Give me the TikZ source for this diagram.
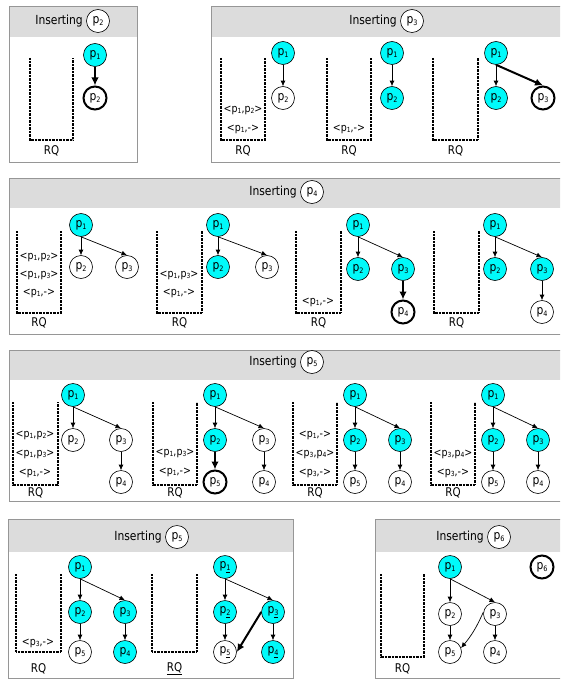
\documentclass[tikz,border=0pt]{standalone}
\usepackage{fontspec}
\setmainfont{DejaVu Sans}[FakeStretch=0.86]
\usetikzlibrary{arrows.meta}
\definecolor{vcyan}{RGB}{0,250,250}
\definecolor{hdrgray}{RGB}{220,220,220}
\definecolor{boxgray}{RGB}{150,150,150}
\newcommand\pl[1]{p\raisebox{-0.3ex}{\fontsize{7.5}{8}\selectfont #1}}
\newcommand\pu[1]{p\raisebox{-0.3ex}{\fontsize{7.5}{8}\selectfont\underline{#1}}}
\newcommand\ql[1]{p\raisebox{-0.3ex}{\fontsize{7}{8}\selectfont #1}}
\newcommand\RQbucket[6]{%
  \draw[bucketline] (#1,#3) -- (#1,#4) -- (#2,#4) -- (#2,#3);
  \node[rqlab] (#5) at ({(#1+#2)/2},#6) {RQ};}
\newcommand\RQbucketu[6]{%
  \draw[bucketline] (#1,#3) -- (#1,#4) -- (#2,#4) -- (#2,#3);
  \node[rqlab] (#5) at ({(#1+#2)/2},#6) {\underline{RQ}};}
\newcommand\panel[6]{% x1 y1 x2 y2 headerbottom name
  \fill[hdrgray] (#1,#2) rectangle (#3,#5);
  \draw[panelline] (#1,#2) rectangle (#3,#4);
  \coordinate (#6) at (#1,#2);}
\newcommand\ptitle[4]{% x y label name
  \node[pn] (#4) at (#1,#2) {\pl{#3}};
  \node[titletext, anchor=east] (#4t) at (#1-15,#2) {Inserting};}
\tikzset{
  pn/.style={circle, draw, line width=0.6pt, minimum size=23pt, inner sep=0pt,
    fill=white, font=\fontsize{12.5}{13}\selectfont},
  vis/.style={pn, fill=vcyan},
  newn/.style={pn, line width=2pt},
  arr/.style={-{Latex[length=5.5pt,width=5pt]}, line width=0.7pt},
  tarr/.style={-{Latex[length=8pt,width=7.5pt]}, line width=2pt},
  bucketline/.style={line width=1.6pt, dash pattern=on 0.9pt off 0.5pt},
  panelline/.style={draw=boxgray, line width=0.8pt},
  titletext/.style={inner sep=0pt, font=\fontsize{12.5}{14}\selectfont},
  qlab/.style={inner sep=0pt, font=\fontsize{11}{12}\selectfont},
  rqlab/.style={inner sep=0pt, font=\fontsize{12}{13}\selectfont},
}
\begin{document}
\begin{tikzpicture}[x=1pt,y=-1pt]
\useasboundingbox (0,0) rectangle (560,679);
\clip (0,0) rectangle (560,679);

% ---------------- Panel 1 ----------------
\panel{9}{6}{137}{162}{37}{P1}
\ptitle{98}{21}{2}{T1}
\RQbucket{30}{73}{58}{140}{rq1}{151}
\node[vis]  (a1) at (95,55) {\pl{1}};
\node[newn] (a2) at (95,98) {\pl{2}};
\draw[tarr] (a1) -- (a2);

% ---------------- Panel 2 ----------------
\panel{211}{6}{575}{162}{37}{P2}
\ptitle{412}{21}{3}{T2}
\RQbucket{221}{265}{58}{140}{rq2a}{151}
\node[qlab] (q2a1) at (243,110) {<\ql{1},\ql{2}>};
\node[qlab] (q2a2) at (243,129) {<\ql{1},->};
\node[vis] (b1) at (283,53) {\pl{1}};
\node[pn]  (b2) at (283,98) {\pl{2}};
\draw[arr] (b1) -- (b2);
\RQbucket{327}{371}{58}{140}{rq2b}{151}
\node[qlab] (q2b1) at (349,129) {<\ql{1},->};
\node[vis] (c1) at (392,53) {\pl{1}};
\node[vis] (c2) at (392,98) {\pl{2}};
\draw[arr] (c1) -- (c2);
\RQbucket{433}{478}{58}{140}{rq2c}{151}
\node[vis]  (d1) at (496,53) {\pl{1}};
\node[vis]  (d2) at (496,98) {\pl{2}};
\node[newn] (d3) at (543,98) {\pl{3}};
\draw[arr] (d1) -- (d2);
\draw[tarr] (d1.south) -- (d3.north);

% ---------------- Panel 3 ----------------
\panel{9}{178}{575}{334}{208}{P3}
\ptitle{312}{192}{4}{T3}
\RQbucket{17}{61}{231}{313}{rq3a}{323}
\node[qlab] (q3a1) at (39,257) {<\ql{1},\ql{2}>};
\node[qlab] (q3a2) at (39,275) {<\ql{1},\ql{3}>};
\node[qlab] (q3a3) at (39,293) {<\ql{1},->};
\node[vis] (e1) at (81,225) {\pl{1}};
\node[pn]  (e2) at (81,267) {\pl{2}};
\node[pn]  (e3) at (127,267) {\pl{3}};
\draw[arr] (e1) -- (e2);
\draw[arr] (e1.south) -- (e3.north);
\RQbucket{157}{202}{231}{313}{rq3b}{323}
\node[qlab] (q3b1) at (179,275) {<\ql{1},\ql{3}>};
\node[qlab] (q3b2) at (179,293) {<\ql{1},->};
\node[vis] (f1) at (218,225) {\pl{1}};
\node[vis] (f2) at (218,267) {\pl{2}};
\node[pn]  (f3) at (267,267) {\pl{3}};
\draw[arr] (f1) -- (f2);
\draw[arr] (f1.south) -- (f3.north);
\RQbucket{296}{341}{231}{313}{rq3c}{323}
\node[qlab] (q3c1) at (318,302) {<\ql{1},->};
\node[vis]  (g1) at (358,225) {\pl{1}};
\node[vis]  (g2) at (358,269) {\pl{2}};
\node[vis]  (g3) at (403,269) {\pl{3}};
\node[newn] (g4) at (403,312) {\pl{4}};
\draw[arr] (g1) -- (g2);
\draw[arr] (g1.south) -- (g3.north);
\draw[tarr] (g3) -- (g4);
\RQbucket{434}{479}{231}{313}{rq3d}{323}
\node[vis] (h1) at (495,225) {\pl{1}};
\node[vis] (h2) at (495,269) {\pl{2}};
\node[vis] (h3) at (542,269) {\pl{3}};
\node[pn]  (h4) at (542,312) {\pl{4}};
\draw[arr] (h1) -- (h2);
\draw[arr] (h1.south) -- (h3.north);
\draw[arr] (h3) -- (h4);

% ---------------- Panel 4 ----------------
\panel{9}{350}{575}{501}{380}{P4}
\ptitle{312}{362}{5}{T4}
\RQbucket{13}{58}{402}{485}{rq4a}{493}
\node[qlab] (q4a1) at (35,435) {<\ql{1},\ql{2}>};
\node[qlab] (q4a2) at (35,454) {<\ql{1},\ql{3}>};
\node[qlab] (q4a3) at (35,473) {<\ql{1},->};
\node[vis] (i1) at (73,395) {\pl{1}};
\node[pn]  (i2) at (73,440) {\pl{2}};
\node[pn]  (i3) at (121,440) {\pl{3}};
\node[pn]  (i4) at (121,482) {\pl{4}};
\draw[arr] (i1) -- (i2);
\draw[arr] (i1.south) -- (i3.north);
\draw[arr] (i3) -- (i4);
\RQbucket{153}{197}{402}{485}{rq4b}{493}
\node[qlab] (q4b1) at (175,453) {<\ql{1},\ql{3}>};
\node[qlab] (q4b2) at (175,472) {<\ql{1},->};
\node[vis]  (j1) at (215,395) {\pl{1}};
\node[vis]  (j2) at (215,440) {\pl{2}};
\node[pn]   (j3) at (264,440) {\pl{3}};
\node[newn] (j5) at (215,482) {\pl{5}};
\node[pn]   (j4) at (264,482) {\pl{4}};
\draw[arr] (j1) -- (j2);
\draw[arr] (j1.south) -- (j3.north);
\draw[tarr] (j2) -- (j5);
\draw[arr] (j3) -- (j4);
\RQbucket{293}{337}{402}{485}{rq4c}{493}
\node[qlab] (q4c1) at (315,435) {<\ql{1},->};
\node[qlab] (q4c2) at (315,454) {<\ql{3},\ql{4}>};
\node[qlab] (q4c3) at (315,473) {<\ql{3},->};
\node[vis] (k1) at (355,395) {\pl{1}};
\node[vis] (k2) at (355,440) {\pl{2}};
\node[vis] (k3) at (400,440) {\pl{3}};
\node[pn]  (k5) at (355,482) {\pl{5}};
\node[pn]  (k4) at (400,482) {\pl{4}};
\draw[arr] (k1) -- (k2);
\draw[arr] (k1.south) -- (k3.north);
\draw[arr] (k2) -- (k5);
\draw[arr] (k3) -- (k4);
\RQbucket{431}{475}{402}{485}{rq4d}{493}
\node[qlab] (q4d1) at (453,454) {<\ql{3},\ql{4}>};
\node[qlab] (q4d2) at (453,473) {<\ql{3},->};
\node[vis] (l1) at (493,395) {\pl{1}};
\node[vis] (l2) at (493,440) {\pl{2}};
\node[vis] (l3) at (538,440) {\pl{3}};
\node[pn]  (l5) at (493,482) {\pl{5}};
\node[pn]  (l4) at (538,482) {\pl{4}};
\draw[arr] (l1) -- (l2);
\draw[arr] (l1.south) -- (l3.north);
\draw[arr] (l2) -- (l5);
\draw[arr] (l3) -- (l4);

% ---------------- Panel 5 ----------------
\panel{8}{519}{293}{678.5}{552}{P5}
\ptitle{177}{537}{5}{T5}
\RQbucket{16}{61}{574}{652}{rq5a}{669}
\node[qlab] (q5a1) at (38,643) {<\ql{3},->};
\node[vis] (m1) at (80,567) {\pl{1}};
\node[vis] (m2) at (80,612) {\pl{2}};
\node[vis] (m3) at (125,612) {\pl{3}};
\node[pn]  (m5) at (80,652) {\pl{5}};
\node[vis] (m4) at (125,652) {\pl{4}};
\draw[arr] (m1) -- (m2);
\draw[arr] (m1.south) -- (m3.north);
\draw[arr] (m2) -- (m5);
\draw[arr] (m3) -- (m4);
\RQbucketu{152}{197}{574}{652}{rq5b}{669}
\node[vis] (n1) at (225,567) {\pu{1}};
\node[vis] (n2) at (225,612) {\pu{2}};
\node[vis] (n3) at (273,612) {\pu{3}};
\node[pn]  (n5) at (225,652) {\pu{5}};
\node[vis] (n4) at (273,652) {\pu{4}};
\draw[arr] (n1) -- (n2);
\draw[arr] (n1.south) -- (n3.north);
\draw[arr] (n2) -- (n5);
\draw[arr] (n3) -- (n4);
\draw[tarr] (n3.west) -- (n5.east);

% ---------------- Panel 6 ----------------
\panel{375}{519}{575}{678.5}{552}{P6}
\ptitle{499}{537}{6}{T6}
\RQbucket{381}{424}{574}{657}{rq6}{669}
\node[vis] (o1) at (450,567) {\pl{1}};
\node[pn]  (o2) at (450,614) {\pl{2}};
\node[pn]  (o3) at (495,614) {\pl{3}};
\node[pn]  (o5) at (450,652) {\pl{5}};
\node[pn]  (o4) at (495,652) {\pl{4}};
\draw[arr] (o1) -- (o2);
\draw[arr] (o1.south) -- (o3.north);
\draw[arr] (o2) -- (o5);
\draw[arr] (o3) -- (o4);
\draw[arr] (o3.170) to[bend left=8] (o5.20);
\node[newn] (o6) at (542,567) {\pl{6}};
\end{tikzpicture}
\end{document}
